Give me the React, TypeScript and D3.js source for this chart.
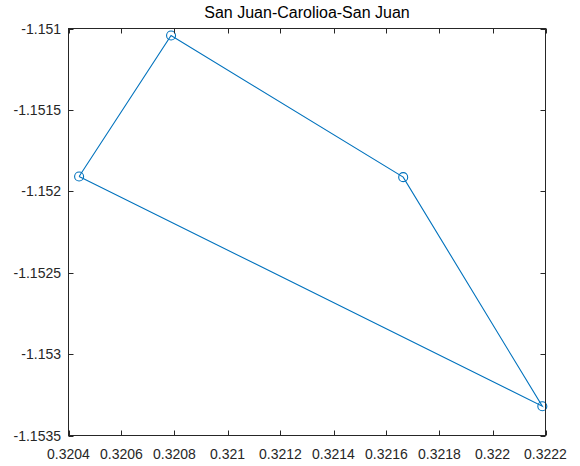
import React from "react";
import * as d3 from "d3";

const routeX = [0.32044, 0.320787, 0.321663, 0.322188, 0.32044];
const routeY = [-1.151909, -1.151043, -1.151913, -1.15332, -1.151909];
const xTicks = [0.3204, 0.3206, 0.3208, 0.321, 0.3212, 0.3214, 0.3216, 0.3218, 0.322, 0.3222];
const yTicks = [-1.151, -1.1515, -1.152, -1.1525, -1.153, -1.1535];
const title = "San Juan-Carolioa-San Juan";

const W = 580;
const H = 466;
const L = 68.5, R = 545.5, T = 28.5, B = 435.5;
const axisColor = "#262626";
const lineColor = "#0072BD";
const font = "'Liberation Sans', Arial, Helvetica, sans-serif";

export default function App() {
  const x = d3.scaleLinear().domain([0.3204, 0.3222]).range([L, R]);
  const y = d3.scaleLinear().domain([-1.1535, -1.151]).range([B, T]);
  const pts = routeX.map((v, i) => [v, routeY[i]] as [number, number]);
  const line = d3.line<[number, number]>().x((d) => x(d[0])).y((d) => y(d[1]));
  const tl = 5;
  return (
    <svg width={W} height={H} style={{ position: "absolute", left: 0, top: 0, background: "#fff" }}>
      <rect x={0} y={0} width={W} height={H} fill="#fff" />
      <text x={(L + R) / 2} y={18} textAnchor="middle" fontFamily={font} fontSize={16} fill="#000">
        {title}
      </text>
      <path d={line(pts) || ""} fill="none" stroke={lineColor} strokeWidth={1.1} />
      {pts.slice(0, 4).map((p, i) => (
        <circle key={i} cx={x(p[0])} cy={y(p[1])} r={4.5} fill="none" stroke={lineColor} strokeWidth={1.1} />
      ))}
      <rect x={L} y={T} width={R - L} height={B - T} fill="none" stroke={axisColor} strokeWidth={1} />
      {xTicks.map((t, i) => (
        <g key={"x" + i}>
          <line x1={Math.round(x(t)) + 0.5} x2={Math.round(x(t)) + 0.5} y1={B} y2={B - tl} stroke={axisColor} />
          <line x1={Math.round(x(t)) + 0.5} x2={Math.round(x(t)) + 0.5} y1={T} y2={T + tl} stroke={axisColor} />
          <text x={x(t)} y={459} textAnchor="middle" fontFamily={font} fontSize={14} fill={axisColor}>
            {String(t)}
          </text>
        </g>
      ))}
      {yTicks.map((t, i) => (
        <g key={"y" + i}>
          <line x1={L} x2={L + tl} y1={Math.round(y(t)) + 0.5} y2={Math.round(y(t)) + 0.5} stroke={axisColor} />
          <line x1={R} x2={R - tl} y1={Math.round(y(t)) + 0.5} y2={Math.round(y(t)) + 0.5} stroke={axisColor} />
          <text x={61} y={y(t) + 5} textAnchor="end" fontFamily={font} fontSize={14} fill={axisColor}>
            {String(t)}
          </text>
        </g>
      ))}
    </svg>
  );
}
